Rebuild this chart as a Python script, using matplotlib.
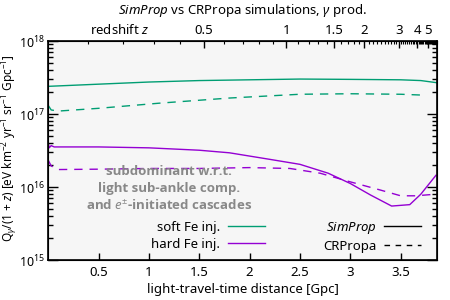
import numpy as np
import matplotlib
matplotlib.use("Agg")
import matplotlib.pyplot as plt
from matplotlib.lines import Line2D
from matplotlib.ticker import LogLocator, NullFormatter

plt.rcParams['font.family'] = ['Noto Sans', 'DejaVu Sans']
plt.rcParams['mathtext.fontset'] = 'custom'
plt.rcParams['mathtext.rm'] = 'Noto Sans'
plt.rcParams['mathtext.it'] = 'Noto Sans:italic'
plt.rcParams['mathtext.bf'] = 'Noto Sans:bold'
plt.rcParams['axes.unicode_minus'] = True

# ---- data (light-travel-time distance in Gpc, Q in eV km^-2 yr^-1 sr^-1 Gpc^-1)
soft_sim_x = [0.0, 0.5, 1.0, 1.5, 2.0, 2.5, 3.0, 3.5, 3.7, 3.86]
soft_sim_y = [2.40e17, 2.57e17, 2.75e17, 2.88e17, 2.95e17, 3.02e17, 2.99e17, 2.95e17, 2.88e17, 2.69e17]

soft_crp_x = [0.0, 0.03, 0.1, 0.5, 1.1, 1.8, 2.5, 3.0, 3.5, 3.72]
soft_crp_y = [1.32e17, 1.14e17, 1.10e17, 1.20e17, 1.41e17, 1.66e17, 1.87e17, 1.90e17, 1.87e17, 1.82e17]

hard_sim_x = [0.0, 0.01, 0.03, 0.06, 0.5, 1.0, 1.5, 1.8, 2.2, 2.5, 2.78, 3.0, 3.2, 3.41, 3.59, 3.7, 3.85]
hard_sim_y = [4.1e16, 3.45e16, 3.7e16, 3.55e16, 3.55e16, 3.45e16, 3.2e16, 2.95e16, 2.4e16, 2.05e16,
              1.55e16, 1.12e16, 7.8e15, 5.5e15, 5.75e15, 8.0e15, 1.45e16]

hard_crp_x = [0.0, 0.03, 0.1, 0.5, 1.0, 1.5, 2.0, 2.4, 2.7, 3.0, 3.3, 3.5, 3.65, 3.8]
hard_crp_y = [2.35e16, 1.95e16, 1.74e16, 1.76e16, 1.80e16, 1.80e16, 1.85e16, 1.80e16, 1.55e16,
              1.18e16, 9.1e15, 7.6e15, 7.6e15, 7.9e15]

z_major = [0.5, 1, 1.5, 2, 3, 4, 5]
z_major_labels = ['0.5', '1', '1.5', '2', '3', '4', '5']

green = '#009e73'
purple = '#9400d3'


def lookback_gpc(z, H0=70.0, Om=0.3):
    # light-travel-time distance c*t_lookback for flat LCDM
    zz = np.linspace(0, z, 2000)
    f = 1.0 / ((1 + zz) * np.sqrt(Om * (1 + zz) ** 3 + 1 - Om))
    return 299792.458 / H0 / 1000.0 * np.trapezoid(f, zz)


fig = plt.figure(figsize=(4.5, 3), dpi=100)
ax = fig.add_axes([0.107, 0.133, 0.864, 0.730])
ax.set_facecolor('#f6f6f6')

lw = 1.0
ax.plot(soft_sim_x, soft_sim_y, color=green, lw=lw)
ax.plot(soft_crp_x, soft_crp_y, color=green, lw=lw, dashes=(6, 5))
ax.plot(hard_sim_x, hard_sim_y, color=purple, lw=lw)
ax.plot(hard_crp_x, hard_crp_y, color=purple, lw=lw, dashes=(6, 5))

ax.set_yscale('log')
ax.set_ylim(1e15, 1e18)
ax.set_xlim(0, 3.86)
ax.set_xticks([0.5, 1, 1.5, 2, 2.5, 3, 3.5])
ax.set_xticklabels(['0.5', '1', '1.5', '2', '2.5', '3', '3.5'])
ax.yaxis.set_minor_locator(LogLocator(base=10, subs=np.arange(2, 10)))
ax.yaxis.set_minor_formatter(NullFormatter())

ax.tick_params(axis='both', which='both', direction='in', labelsize=9.5, width=1.0)
ax.tick_params(axis='y', which='major', length=7, right=True, pad=2, labelsize=9)
ax.tick_params(axis='y', which='minor', length=3.5, right=True)
ax.tick_params(axis='x', which='major', length=5, top=False, pad=4)
for s in ax.spines.values():
    s.set_linewidth(1.2)

ax.set_xlabel('light-travel-time distance [Gpc]', fontsize=9.5, labelpad=3)
ax.set_ylabel(r'Q$_\gamma$/(1 + $z$) [eV km$^{-2}$ yr$^{-1}$ sr$^{-1}$ Gpc$^{-1}$]',
              fontsize=8.5)
ax.yaxis.set_label_coords(-0.073, 0.51)

# top redshift axis
ax2 = ax.twiny()
ax2.set_xlim(ax.get_xlim())
ax2.set_xticks([lookback_gpc(z) for z in z_major])
ax2.set_xticklabels(z_major_labels)
z_minor = [z for z in np.arange(0.1, 12.01, 0.1) if not any(abs(z - m) < 1e-6 for m in z_major)]
z_minor = [lookback_gpc(z) for z in z_minor]
ax2.set_xticks([d for d in z_minor if d < 3.86], minor=True)
ax2.tick_params(axis='x', which='major', direction='in', length=5, labelsize=9.5, pad=3, width=1.0)
ax2.tick_params(axis='x', which='minor', direction='in', length=2.5, width=0.8)
ax2.text(0.185, 1.05, 'redshift $z$', transform=ax.transAxes, ha='center', va='center', fontsize=9.5)

fig.text(0.539, 0.965, r'$\mathit{SimProp}$ vs CRPropa simulations, $\gamma$ prod.',
         ha='center', va='center', fontsize=9.5)

ax.text(0.311, 0.323, 'subdominant w.r.t.\nlight sub-ankle comp.\nand $\\mathit{e}^{\\pm}$-initiated cascades',
        transform=ax.transAxes, ha='center', va='center', fontsize=9.5, fontweight='bold',
        family=['Open Sans', 'DejaVu Sans'], color='#888888', linespacing=1.35, zorder=5)

handles = [Line2D([], [], color=green, lw=lw),
           Line2D([], [], color=purple, lw=lw),
           Line2D([], [], color='black', lw=lw),
           Line2D([], [], color='black', lw=lw, dashes=(4, 4))]
labels = ['soft Fe inj.', 'hard Fe inj.', r'$\mathit{SimProp}$', 'CRPropa']
ax.legend(handles, labels, ncol=2, loc='lower right', bbox_to_anchor=(0.99, -0.02),
          frameon=False, markerfirst=False, fontsize=9.5, handlelength=2.8,
          columnspacing=4.4, labelspacing=0.3, handletextpad=0.6)

fig.savefig('out.png', dpi=100)
